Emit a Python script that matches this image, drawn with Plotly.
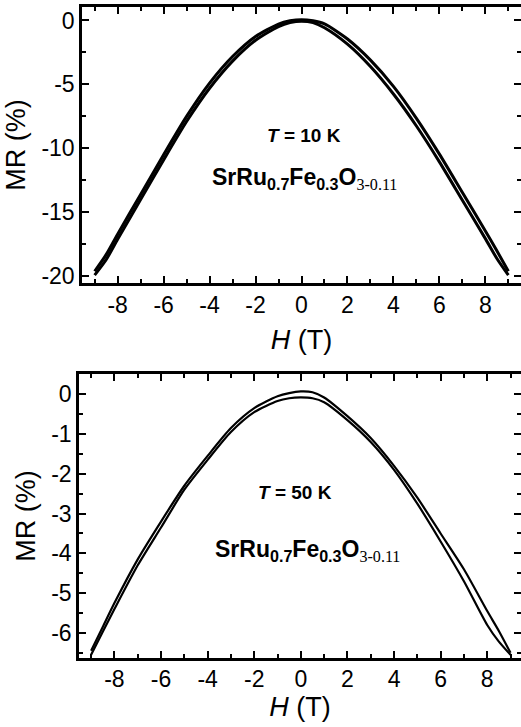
import plotly.graph_objects as go

# ---- data ----
H = [-9, -8.5, -8, -7, -6, -5, -4, -3, -2, -1, -0.5, 0, 0.5, 1, 2, 3, 4, 5, 6, 7, 8, 8.5, 9]

# T = 10 K, two field-sweep branches
mr10_a = [-19.6, -18.3, -16.7, -13.6, -10.5, -7.5, -4.9, -2.82, -1.25, -0.28, -0.03, 0.06, -0.03,
          -0.27, -1.45, -3.1, -5.15, -7.65, -10.45, -13.45, -16.45, -18.0, -19.6]
mr10_b = [-19.9, -18.7, -17.1, -14.0, -10.9, -7.9, -5.3, -3.18, -1.55, -0.48, -0.17, -0.06, -0.17,
          -0.57, -1.85, -3.6, -5.75, -8.25, -11.05, -14.05, -17.05, -18.6, -19.9]

# T = 50 K, two field-sweep branches
mr50_a = [-6.45, -5.85, -5.25, -4.15, -3.2, -2.3, -1.55, -0.85, -0.35, -0.05, 0.03, 0.07, 0.05,
          -0.08, -0.55, -1.1, -1.8, -2.6, -3.5, -4.4, -5.45, -5.95, -6.5]
mr50_b = [-6.55, -5.97, -5.4, -4.3, -3.35, -2.4, -1.65, -0.95, -0.45, -0.17, -0.1, -0.08, -0.1,
          -0.2, -0.65, -1.2, -1.9, -2.75, -3.7, -4.7, -5.8, -6.22, -6.55]

x_ticks = [-8, -6, -4, -2, 0, 2, 4, 6, 8]
x_labels = ["-8", "-6", "-4", "-2", "0", "2", "4", "6", "8"]
y10_ticks = [0, -5, -10, -15, -20]
y10_labels = ["0", "-5", "-10", "-15", "-20"]
y50_ticks = [0, -1, -2, -3, -4, -5, -6]
y50_labels = ["0", "-1", "-2", "-3", "-4", "-5", "-6"]

FONT = "Liberation Sans, Arial, sans-serif"

fig = go.Figure()
for y in (mr10_a, mr10_b):
    fig.add_trace(go.Scatter(x=H, y=y, mode="lines", xaxis="x", yaxis="y",
                             line=dict(color="black", width=3, shape="spline", smoothing=0.7),
                             showlegend=False, hoverinfo="skip"))
for y in (mr50_a, mr50_b):
    fig.add_trace(go.Scatter(x=H, y=y, mode="lines", xaxis="x2", yaxis="y2",
                             line=dict(color="black", width=2.2, shape="spline", smoothing=0.7),
                             showlegend=False, hoverinfo="skip"))

common_axis = dict(showline=True, linewidth=2.5, linecolor="black", mirror="ticks",
                   ticks="inside", ticklen=7, tickwidth=2, tickcolor="black",
                   showgrid=False, zeroline=False, automargin=False,
                   tickfont=dict(family=FONT, size=23, color="black"))
minor_x = dict(ticks="inside", ticklen=4, tickwidth=2, tickcolor="black", dtick=1, tick0=0)

fig.update_layout(
    width=521, height=727,
    margin=dict(l=79, r=0, t=7, b=69),
    paper_bgcolor="white", plot_bgcolor="white",
    font=dict(family=FONT, color="black"),
    xaxis=dict(domain=[0.0068, 1], anchor="y", range=[-9.55, 9.55],
               tickvals=x_ticks, ticktext=x_labels, ticklabelstandoff=0, minor=minor_x,
               title=dict(text="<i>H</i> (T)", font=dict(family=FONT, size=27), standoff=13),
               **common_axis),
    yaxis=dict(domain=[0.576, 1], anchor="x", range=[-20.52, 1.05],
               tickvals=y10_ticks, ticktext=y10_labels, ticklabelstandoff=0,
               minor=dict(ticks="inside", ticklen=4, tickwidth=2, tickcolor="black", dtick=2.5, tick0=0),
               title=dict(text="MR (%)", font=dict(family=FONT, size=27), standoff=8),
               **common_axis),
    xaxis2=dict(domain=[0, 1], anchor="y2", range=[-9.52, 9.45],
                tickvals=x_ticks, ticktext=x_labels, ticklabelstandoff=-1, minor=minor_x,
                title=dict(text="<i>H</i> (T)", font=dict(family=FONT, size=27), standoff=4),
                **common_axis),
    yaxis2=dict(domain=[0, 0.4363], anchor="x2", range=[-6.63, 0.51],
                tickvals=y50_ticks, ticktext=y50_labels, ticklabelstandoff=0,
                minor=dict(ticks="inside", ticklen=4, tickwidth=2, tickcolor="black", dtick=0.5, tick0=0),
                title=dict(text="MR (%)", font=dict(family=FONT, size=27), standoff=8),
                **common_axis),
)

formula = ("<b>SrRu<sub>0.7</sub>Fe<sub>0.3</sub>O</b>"
           "<sub><span style='font-family:Liberation Serif, Times New Roman, serif'>3-0.11</span></sub>")

fig.add_annotation(xref="x", yref="y", x=0.1, y=-9.0, text="<b><i>T</i> = 10 K</b>",
                   showarrow=False, font=dict(family=FONT, size=19, color="black"))
fig.add_annotation(xref="x", yref="y", x=0.15, y=-12.35, text=formula,
                   showarrow=False, font=dict(family=FONT, size=23, color="black"))
fig.add_annotation(xref="x2", yref="y2", x=-0.25, y=-2.48, text="<b><i>T</i> = 50 K</b>",
                   showarrow=False, font=dict(family=FONT, size=19, color="black"))
fig.add_annotation(xref="x2", yref="y2", x=0.28, y=-3.93, text=formula,
                   showarrow=False, font=dict(family=FONT, size=23, color="black"))

fig.write_html("out.html", config={"displayModeBar": False},
               post_script="document.body.style.margin='0px';")
